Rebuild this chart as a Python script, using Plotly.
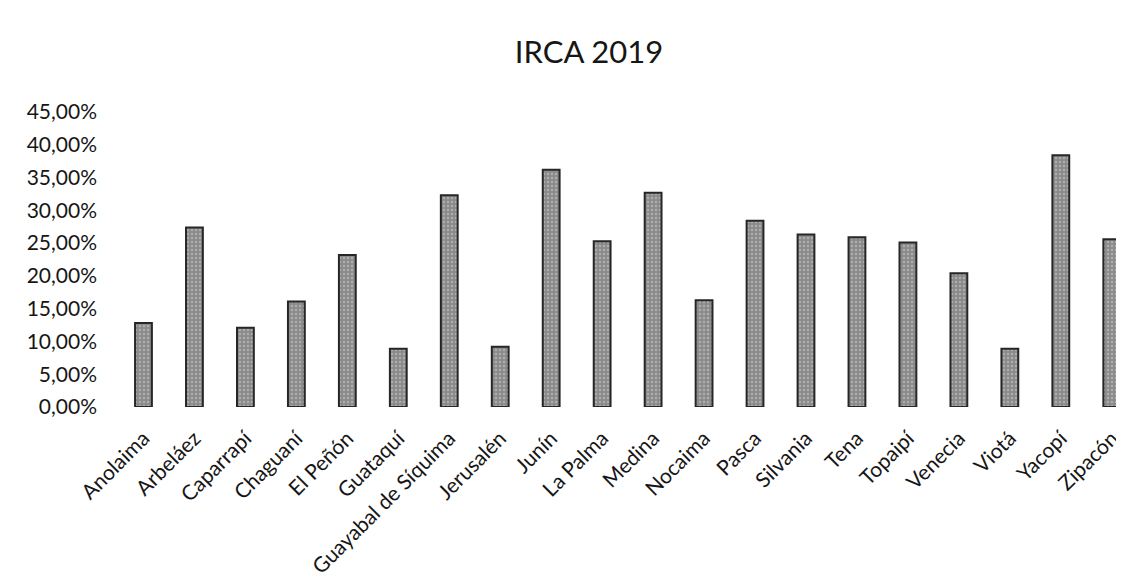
import plotly.graph_objects as go

municipios = ["Anolaima", "Arbeláez", "Caparrapí", "Chaguaní", "El Peñón", "Guataquí",
              "Guayabal de Síquima", "Jerusalén", "Junín", "La Palma", "Medina", "Nocaima",
              "Pasca", "Silvania", "Tena", "Topaipí", "Venecia", "Viotá", "Yacopí", "Zipacón"]
irca = [0.128, 0.274, 0.121, 0.161, 0.232, 0.089, 0.323, 0.092, 0.362, 0.253,
        0.327, 0.163, 0.284, 0.263, 0.259, 0.251, 0.204, 0.089, 0.384, 0.256]
y_ticks = [0, 0.05, 0.10, 0.15, 0.20, 0.25, 0.30, 0.35, 0.40, 0.45]

font_family = "Lato, Open Sans, sans-serif"

# the page body adds an 8px margin, so the figure is sized/positioned to compensate
W, H = 1116, 572

fig = go.Figure(go.Bar(
    x=municipios, y=irca,
    marker=dict(color="#8a8a8a", line=dict(color="#262626", width=2),
                pattern=dict(shape=".", fgcolor="#d0d0d0", size=4, solidity=0.3)),
))

fig.update_layout(
    width=W, height=H,
    paper_bgcolor="white", plot_bgcolor="white",
    margin=dict(l=110, r=0, t=104, b=173, pad=0),
    bargap=0.67,
    showlegend=False,
    separators=",.",
    title=dict(text="IRCA 2019", x=581/W, xanchor="center", y=1 - 44/H, yanchor="middle",
               xref="container", yref="container",
               font=dict(family=font_family, size=31, color="#161616")),
    font=dict(family=font_family, color="#161616"),
)
fig.update_xaxes(range=[-0.5, 19.24], tickangle=-45, showline=False, showgrid=False,
                 ticks="", automargin=False, ticklabelstandoff=14,
                 tickfont=dict(size=21, color="#161616"))
fig.update_yaxes(range=[0, 0.45], tickvals=y_ticks, tickformat=".2%", showgrid=False,
                 showline=False, zeroline=False, ticks="", automargin=False,
                 ticklabelstandoff=20, tickfont=dict(size=21, color="#161616"))

fig.write_html("out.html")
